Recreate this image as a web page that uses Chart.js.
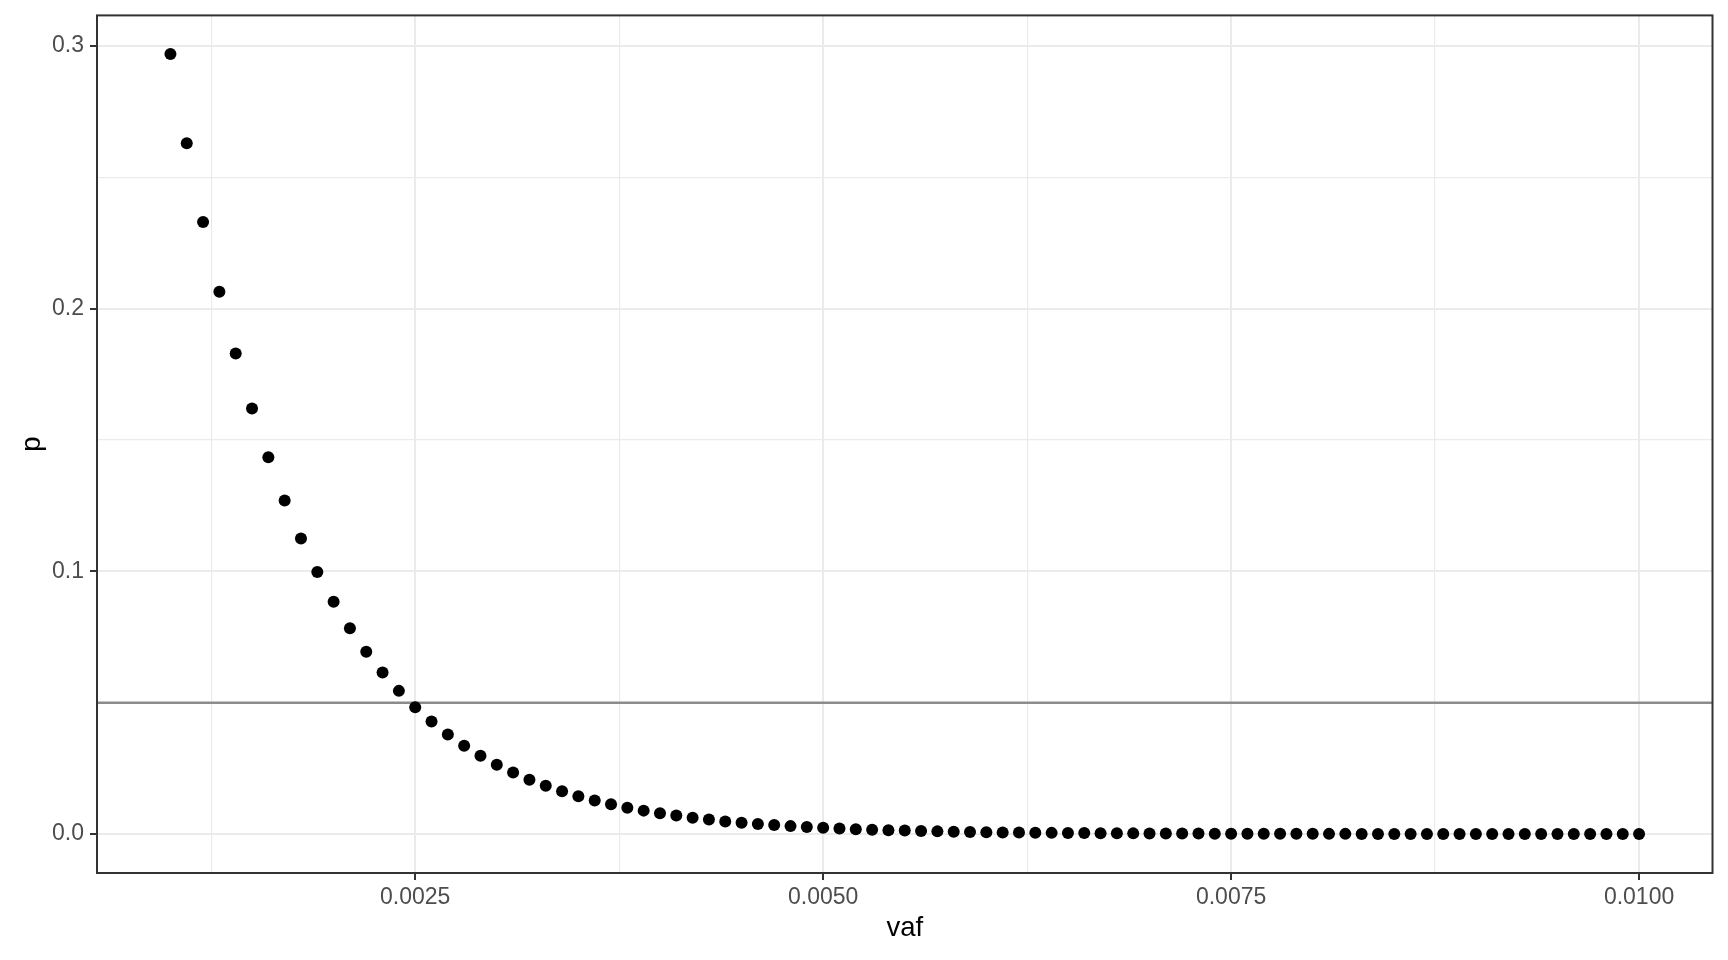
<!DOCTYPE html>
<html>
<head>
<meta charset="utf-8">
<title>p vs vaf</title>
<script src="https://cdn.jsdelivr.net/npm/chart.js@4/dist/chart.umd.min.js"></script>
<style>
    html, body { margin: 0; padding: 0; background: #fff; }
    #chart { display: block; }
</style>
</head>
<body>
<canvas id="chart" width="1728" height="960"></canvas>
<script>
var vaf = [
    0.0010, 0.0011, 0.0012, 0.0013, 0.0014, 0.0015, 0.0016, 0.0017, 0.0018, 0.0019,
    0.0020, 0.0021, 0.0022, 0.0023, 0.0024, 0.0025, 0.0026, 0.0027, 0.0028, 0.0029,
    0.0030, 0.0031, 0.0032, 0.0033, 0.0034, 0.0035, 0.0036, 0.0037, 0.0038, 0.0039,
    0.0040, 0.0041, 0.0042, 0.0043, 0.0044, 0.0045, 0.0046, 0.0047, 0.0048, 0.0049,
    0.0050, 0.0051, 0.0052, 0.0053, 0.0054, 0.0055, 0.0056, 0.0057, 0.0058, 0.0059,
    0.0060, 0.0061, 0.0062, 0.0063, 0.0064, 0.0065, 0.0066, 0.0067, 0.0068, 0.0069,
    0.0070, 0.0071, 0.0072, 0.0073, 0.0074, 0.0075, 0.0076, 0.0077, 0.0078, 0.0079,
    0.0080, 0.0081, 0.0082, 0.0083, 0.0084, 0.0085, 0.0086, 0.0087, 0.0088, 0.0089,
    0.0090, 0.0091, 0.0092, 0.0093, 0.0094, 0.0095, 0.0096, 0.0097, 0.0098, 0.0099,
    0.0100
];
var p = [
    0.297, 0.263, 0.233, 0.2065, 0.183, 0.162, 0.1435, 0.127, 0.1125, 0.0998,
    0.0884, 0.0783, 0.0694, 0.0615, 0.0545, 0.0483, 0.0428, 0.0379, 0.0336, 0.0298,
    0.0264, 0.0234, 0.0207, 0.0184, 0.0163, 0.0144, 0.0128, 0.0113, 0.0100, 0.0089,
    0.0079, 0.0070, 0.0062, 0.0055, 0.0048, 0.0043, 0.0038, 0.0034, 0.0030, 0.0027,
    0.0024, 0.0021, 0.0018, 0.0016, 0.0014, 0.0013, 0.0011, 0.0010, 0.0009, 0.0008,
    0.0007, 0.0006, 0.00055, 0.0005, 0.00043, 0.00038, 0.00034, 0.0003, 0.00027, 0.00024,
    0.00021, 0.00019, 0.00017, 0.00015, 0.00013, 0.00011, 0.0001, 0.00009, 0.00008, 0.00007,
    0.00006, 0.00005, 0.00005, 0.00004, 0.00004, 0.00003, 0.00003, 0.00003, 0.00002, 0.00002,
    0.00002, 0.00002, 0.00001, 0.00001, 0.00001, 0.00001, 0.00001, 0.00001, 0.00001, 0,
    0
];
var cutoff = 0.05;

// major + minor breaks, labels only on the major ones
var xTicks = [0.00125, 0.0025, 0.00375, 0.005, 0.00625, 0.0075, 0.00875, 0.01];
var xLabels = ["", "0.0025", "", "0.0050", "", "0.0075", "", "0.0100"];
var yTicks = [0, 0.05, 0.1, 0.15, 0.2, 0.25, 0.3];
var yLabels = ["0.0", "", "0.1", "", "0.2", "", "0.3"];

var xMin = 0.00055, xMax = 0.01045;
var yMin = -0.01485, yMax = 0.3117;

var FONT = "'Liberation Sans', Arial, Helvetica, sans-serif";

var points = vaf.map(function (v, i) {
    return { x: v, y: p[i] };
});

var isMajor = function (labels, ticks, value) {
    var i = ticks.indexOf(value);
    return i >= 0 && labels[i] !== "";
};

// labels never reach the panel edges, so drop the extra room chart.js reserves for them
var noLabelPadding = function (scale) {
    scale.paddingTop = 0;
    scale.paddingBottom = 0;
    scale.paddingLeft = 0;
    scale.paddingRight = 0;
};

var panelBorder = {
    id: "panelBorder",
    afterDraw: function (chart) {
        var a = chart.chartArea, ctx = chart.ctx;
        ctx.save();
        ctx.strokeStyle = "#333333";
        ctx.lineWidth = 2;
        ctx.strokeRect(a.left, a.top, a.right - a.left, a.bottom - a.top);
        ctx.restore();
    }
};

var ctx = document.getElementById("chart");
var chart = new Chart(ctx, {
    type: "scatter",
    data: {
        datasets: [
            {
                label: "p",
                data: points,
                pointRadius: 6,
                pointBackgroundColor: "#000000",
                pointBorderWidth: 0,
                showLine: false
            },
            {
                label: "cutoff",
                type: "line",
                data: [{ x: xMin, y: cutoff }, { x: xMax, y: cutoff }],
                borderColor: "#8c8c8c",
                borderWidth: 2.5,
                pointRadius: 0,
                fill: false
            }
        ]
    },
    plugins: [panelBorder],
    options: {
        responsive: false,
        animation: false,
        devicePixelRatio: 1,
        events: [],
        layout: { padding: { top: 15.4, right: 15.5, left: 0, bottom: 0 } },
        plugins: {
            legend: { display: false },
            tooltip: { enabled: false }
        },
        scales: {
            x: {
                type: "linear",
                min: xMin,
                max: xMax,
                afterBuildTicks: function (scale) {
                    scale.ticks = xTicks.map(function (v) { return { value: v }; });
                },
                afterFit: function (scale) {
                    scale.height = 87;
                    noLabelPadding(scale);
                },
                border: { display: false },
                grid: {
                    color: "#ebebeb",
                    lineWidth: function (c) {
                        return isMajor(xLabels, xTicks, c.tick && c.tick.value) ? 2 : 1.2;
                    },
                    tickColor: function (c) {
                        return isMajor(xLabels, xTicks, c.tick && c.tick.value) ? "#333333" : "rgba(0,0,0,0)";
                    },
                    tickWidth: 2,
                    tickLength: 7
                },
                ticks: {
                    autoSkip: false,
                    maxRotation: 0,
                    padding: 4,
                    color: "#4d4d4d",
                    font: { family: FONT, size: 23 },
                    callback: function (value, index) { return xLabels[index]; }
                },
                title: {
                    display: true,
                    text: "vaf",
                    color: "#000000",
                    font: { family: FONT, size: 27.5 },
                    padding: { top: 0, bottom: 15 }
                }
            },
            y: {
                type: "linear",
                min: yMin,
                max: yMax,
                afterBuildTicks: function (scale) {
                    scale.ticks = yTicks.map(function (v) { return { value: v }; });
                },
                afterFit: function (scale) {
                    scale.width = 97;
                    noLabelPadding(scale);
                },
                border: { display: false },
                grid: {
                    color: "#ebebeb",
                    lineWidth: function (c) {
                        return isMajor(yLabels, yTicks, c.tick && c.tick.value) ? 2 : 1.2;
                    },
                    tickColor: function (c) {
                        return isMajor(yLabels, yTicks, c.tick && c.tick.value) ? "#333333" : "rgba(0,0,0,0)";
                    },
                    tickWidth: 2,
                    tickLength: 7
                },
                ticks: {
                    autoSkip: false,
                    padding: 6,
                    color: "#4d4d4d",
                    font: { family: FONT, size: 23 },
                    callback: function (value, index) { return yLabels[index]; }
                },
                title: {
                    display: true,
                    text: "p",
                    color: "#000000",
                    font: { family: FONT, size: 27.5 },
                    padding: { top: 16, bottom: 0 }
                }
            }
        }
    }
});
</script>
</body>
</html>
